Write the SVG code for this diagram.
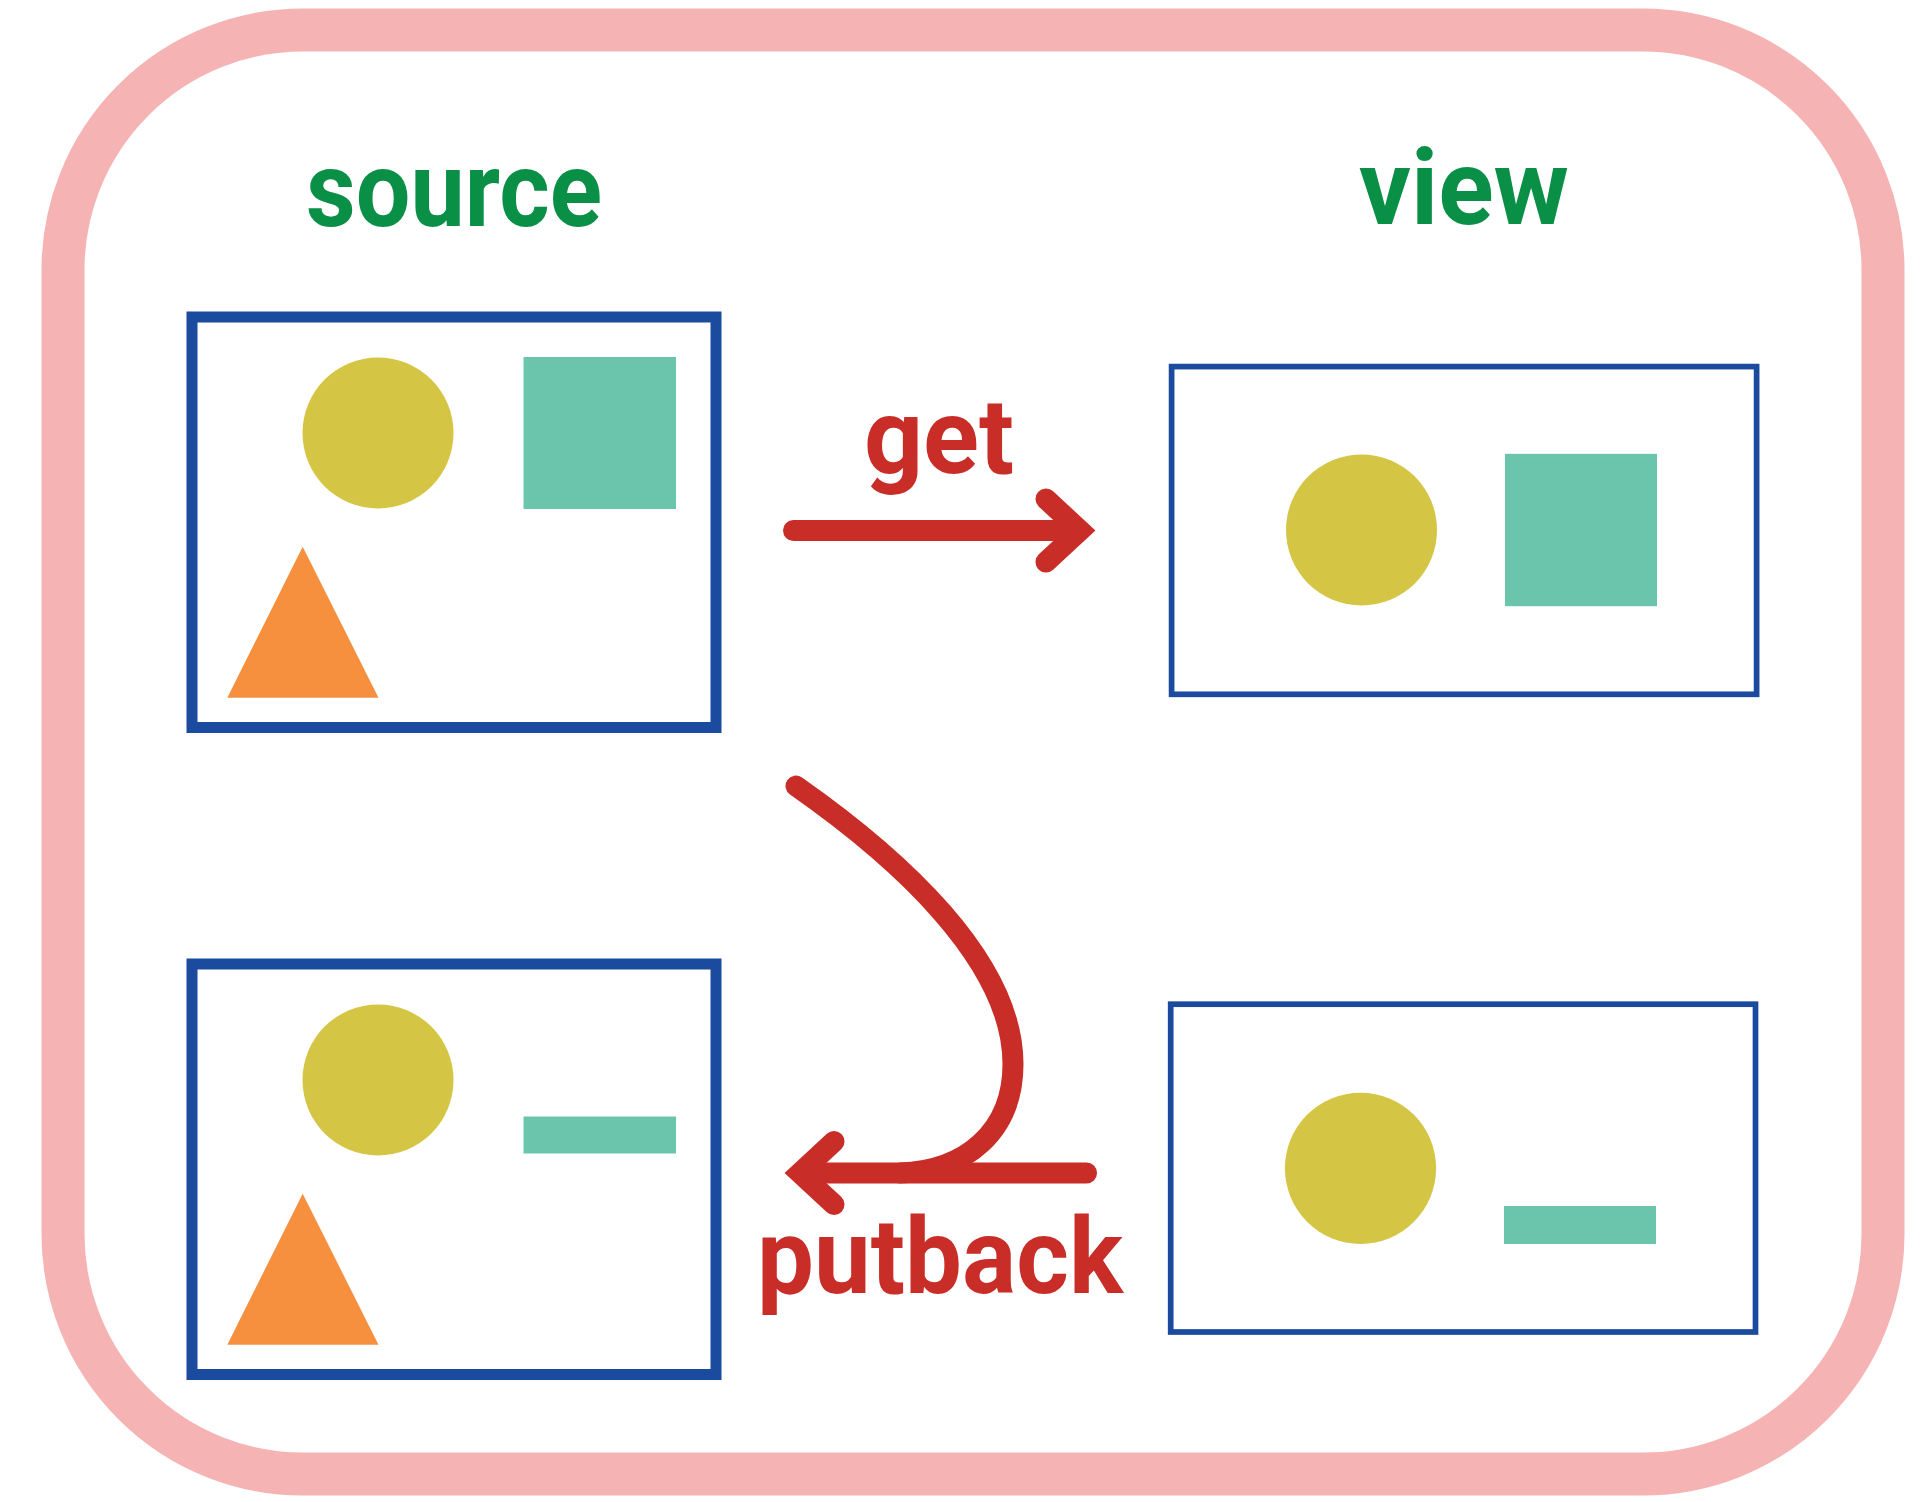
<svg xmlns="http://www.w3.org/2000/svg" width="1928" height="1502" viewBox="0 0 1928 1502">
<defs>
<style>
.frame{fill:#fff;stroke:#f6b3b4;stroke-width:43}
.box{fill:#fff;stroke:#1b4b9e}
.thick{stroke-width:11}
.thin{stroke-width:5.7}
.circ{fill:#d5c544}
.sq{fill:#6bc5ac}
.tri{fill:#f6903f}
.title{font-family:Roboto,"Open Sans",sans-serif;font-weight:700;font-size:106px;fill:#0a8f47}
.lbl{font-family:Roboto,"Open Sans",sans-serif;font-weight:700;font-size:106px;fill:#c92d28}
.arr{fill:none;stroke:#c92d28;stroke-width:21;stroke-linecap:round;stroke-linejoin:miter;stroke-miterlimit:10}
</style>
</defs>
<rect width="1928" height="1502" fill="#fff"/>
<rect id="frame" class="frame" x="63" y="30" width="1820" height="1444" rx="240" ry="240"/>

<g id="title-source"><text class="title" x="306" y="226" textLength="296" lengthAdjust="spacingAndGlyphs">source</text></g>
<g id="title-view"><text class="title" x="1359" y="224" textLength="210" lengthAdjust="spacingAndGlyphs">view</text></g>

<g id="source-before">
<rect class="box thick" x="192" y="317" width="524" height="410.5"/>
<circle class="circ" cx="378" cy="433" r="75.5"/>
<rect class="sq" x="523.5" y="357" width="152.5" height="152"/>
<polygon class="tri" points="302.7,546.7 378.5,697.7 227.3,697.7"/>
</g>

<g id="view-before">
<rect class="box thin" x="1171.6" y="366.6" width="585" height="327.7"/>
<circle class="circ" cx="1361.5" cy="530" r="75.5"/>
<rect class="sq" x="1505" y="453.8" width="152" height="152.4"/>
</g>

<g id="source-after">
<rect class="box thick" x="192" y="964" width="524" height="410.5"/>
<circle class="circ" cx="378" cy="1080" r="75.5"/>
<rect class="sq" x="523.5" y="1116.5" width="152.5" height="37"/>
<polygon class="tri" points="302.7,1193.7 378.5,1344.7 227.3,1344.7"/>
</g>

<g id="view-after">
<rect class="box thin" x="1170.7" y="1004.2" width="584.8" height="327.8"/>
<circle class="circ" cx="1360.5" cy="1168.3" r="75.6"/>
<rect class="sq" x="1504" y="1206" width="152" height="38"/>
</g>

<g id="connectors">
<g id="get">
<path class="arr" d="M793.5,530.5 H1078"/>
<path class="arr" d="M1046,499 L1080,530.5 L1046,562"/>
<text class="lbl" x="864" y="473" textLength="150" lengthAdjust="spacingAndGlyphs">get</text>
</g>
<g id="putback">
<path class="arr" d="M796,786 C896,856 1013,960 1013,1064 C1013,1132 965,1171 900,1173"/>
<path class="arr" d="M1086.5,1173 H802"/>
<path class="arr" d="M834,1141.5 L800,1173 L834,1204.5"/>
<text class="lbl" x="757" y="1293" textLength="366" lengthAdjust="spacingAndGlyphs">putback</text>
</g>
</g>
</svg>
